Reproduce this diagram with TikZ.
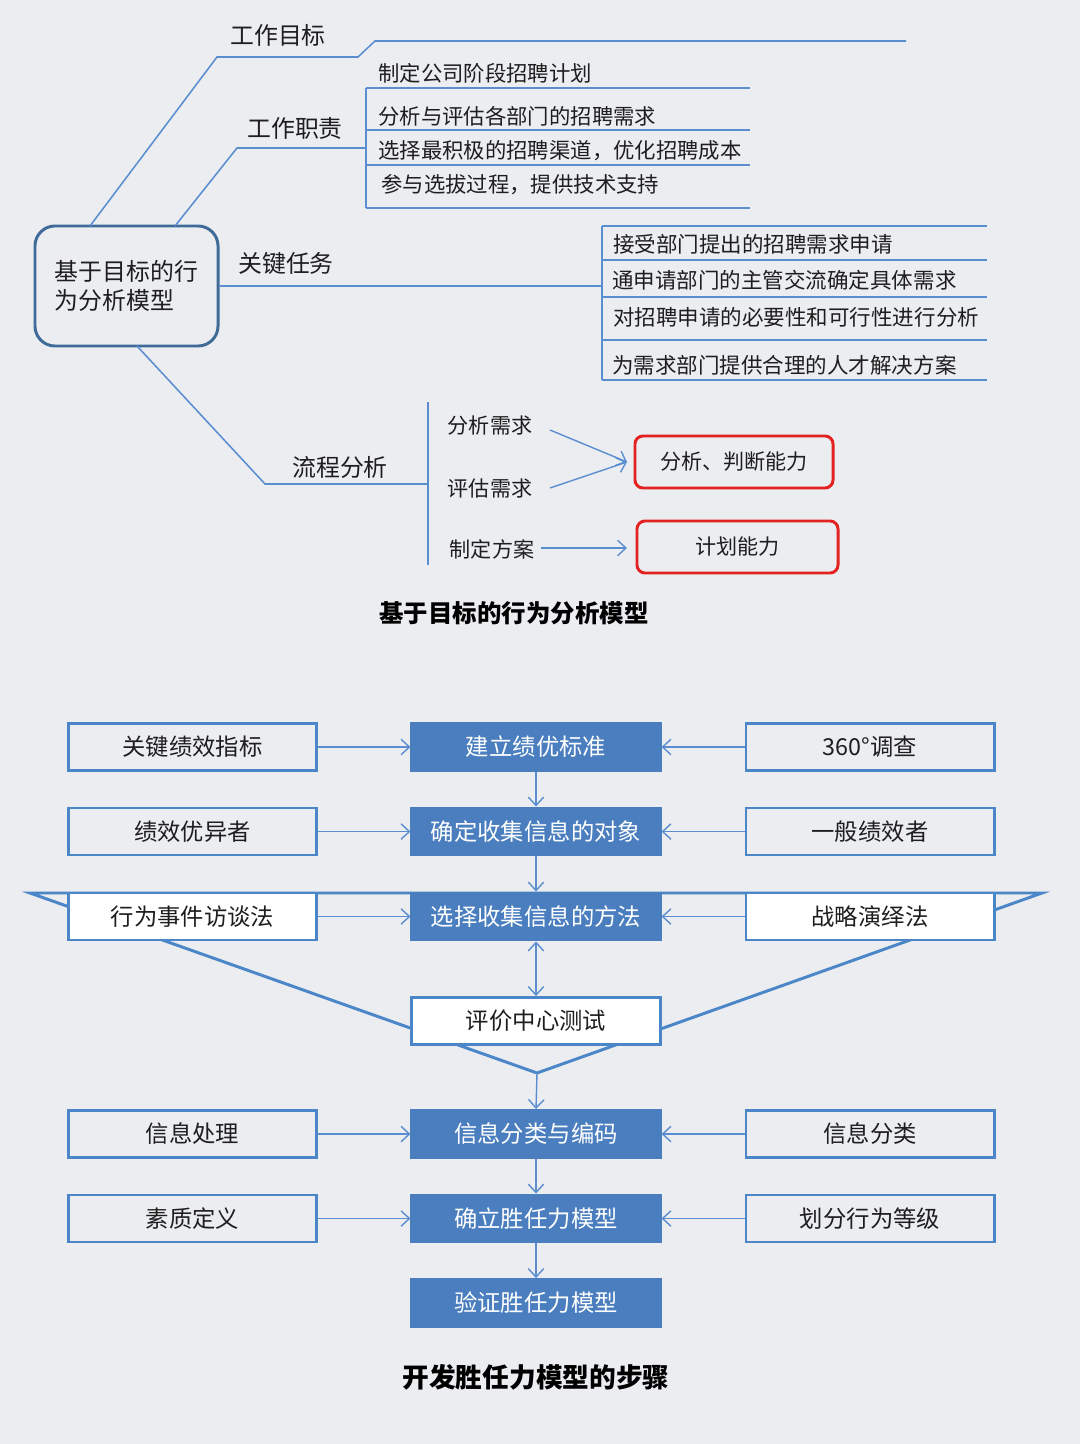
\documentclass[tikz,border=0pt]{standalone}
\usepackage{fontspec}
\setmainfont{Noto Sans CJK SC}
\usetikzlibrary{arrows.meta}
\definecolor{bgc}{HTML}{EBEDF0}
\definecolor{lblue}{HTML}{5B8ED0}
\definecolor{bblue}{HTML}{4A86C8}
\definecolor{fblue}{HTML}{4A7EBF}
\definecolor{mblue}{HTML}{3E6B98}
\definecolor{rred}{HTML}{E42222}
\definecolor{txt}{HTML}{1E1E1E}
\tikzset{
  thinln/.style={draw=lblue, line width=1.1pt},
  lbl/.style={text=txt, inner sep=0pt, font=\fontsize{17}{20}\selectfont},
  sub/.style={text=txt, inner sep=0pt, anchor=west, font=\fontsize{15.2}{18}\selectfont},
  subb/.style={text=txt, inner sep=0pt, anchor=west, font=\fontsize{15.3}{18}\selectfont},
  redbox/.style={draw=rred, line width=2.1pt, rounded corners=0.2cm, minimum height=1.3cm, text=txt, font=\fontsize{15}{18}\selectfont},
  arr/.style={draw=lblue, line width=1pt, -{Straight Barb[length=6pt,width=11pt,line width=1pt]}},
  darr/.style={draw=lblue, line width=1pt, {Straight Barb[length=6pt,width=11pt,line width=1pt]}-{Straight Barb[length=6pt,width=11pt,line width=1pt]}},
  obox/.style={draw=bblue, line width=2.1pt, minimum width=6.2cm, minimum height=1.175cm, text=txt, inner sep=0pt, font=\fontsize{16.6}{19}\selectfont},
  wbox/.style={obox, fill=white},
  fbox/.style={obox, fill=fblue, draw=fblue, text=white},
  ttl/.style={text=black, inner sep=0pt, font=\bfseries\fontsize{17.4}{20}\selectfont}
}
\begin{document}
\begin{tikzpicture}[x=0.025cm,y=-0.025cm]
\fill[bgc] (0,0) rectangle (1080,1444);
\useasboundingbox (0,0) rectangle (1080,1444);

% ===== top diagram =====
\node[draw=mblue, line width=2.1pt, rounded corners=0.5cm, minimum width=4.575cm, minimum height=3cm,
      align=left, text=txt, font=\fontsize{17}{20.6}\selectfont] (main) at (126.5,286) {基于目标的行\\为分析模型};

% 工作目标
\coordinate (g0) at (90,226);
\coordinate (g1) at (217,57);
\coordinate (g2) at (358,57);
\coordinate (g3) at (375,41);
\coordinate (g4) at (906,41);
\draw[thinln] (g0) -- (g1) -- (g2) -- (g3) -- (g4);
\node[lbl] (mubiao) at (278,35) {工作目标};

% 工作职责
\coordinate (z0) at (175,226);
\coordinate (z1) at (237,148);
\coordinate (z2) at (366,148);
\draw[thinln] (z0) -- (z1) -- (z2);
\node[lbl] (zhize) at (295,128) {工作职责};
\coordinate (zt) at (366,88);
\coordinate (zb) at (366,208);
\draw[thinln] (zt) -- (zb);
\foreach \yy in {88,130,165,208} \draw[thinln] (366,\yy) -- (750,\yy);
\node[sub] (z_a) at (378,73) {制定公司阶段招聘计划};
\node[sub] (z_b) at (378,116) {分析与评估各部门的招聘需求};
\node[sub] (z_c) at (378,151) {选择最积极的招聘渠道，优化招聘成本};
\node[sub] (z_d) at (381,185) {参与选拔过程，提供技术支持};

% 关键任务
\coordinate (k1) at (602,286);
\draw[thinln] (main.east) -- (k1);
\node[lbl] (renwu) at (286,263) {关键任务};
\coordinate (kt) at (602,226);
\coordinate (kb) at (602,380);
\draw[thinln] (kt) -- (kb);
\foreach \yy in {226,260,297,340,380} \draw[thinln] (602,\yy) -- (987,\yy);
\node[subb] (k_a) at (613,244) {接受部门提出的招聘需求申请};
\node[subb] (k_b) at (612,280) {通申请部门的主管交流确定具体需求};
\node[subb] (k_c) at (613,317) {对招聘申请的必要性和可行性进行分析};
\node[subb] (k_d) at (612,365) {为需求部门提供合理的人才解决方案};

% 流程分析
\coordinate (p0) at (137,346);
\coordinate (p1) at (265,484);
\coordinate (p2) at (428,484);
\draw[thinln] (p0) -- (p1) -- (p2);
\node[lbl] (liucheng) at (340,467) {流程分析};
\coordinate (pt) at (428,402);
\coordinate (pb) at (428,565);
\draw[thinln] (pt) -- (pb);
\node[lbl, font=\fontsize{15}{18}\selectfont] (fx) at (490,426) {分析需求};
\node[lbl, font=\fontsize{15}{18}\selectfont] (pg) at (490,489) {评估需求};
\node[lbl, font=\fontsize{15}{18}\selectfont] (zd) at (492,549) {制定方案};
\node[redbox, minimum width=4.95cm] (r1) at (734,462) {分析、判断能力};
\node[redbox, minimum width=5.025cm] (r2) at (737.5,547) {计划能力};
\coordinate (fxe) at (550,430);
\coordinate (pge) at (550,488);
\coordinate (zde) at (541,548);
\coordinate (r1w) at (627,462);
\coordinate (r2w) at (627,548);
\draw[arr] (fxe) -- (r1w);
\draw[arr] (pge) -- (r1w);
\draw[arr] (zde) -- (r2w);
\node[ttl] (title1) at (514,613) {基于目标的行为分析模型};

% ===== bottom diagram =====
\coordinate (fa) at (30,893);
\coordinate (fb) at (1042,893);
\coordinate (apex) at (537,1073);
\draw[draw=bblue, line width=2.1pt] (fa) -- (fb) -- (apex) -- cycle;

\node[obox] (l1) at (192.5,747) {关键绩效指标};
\node[fbox] (c1) at (536,747) {建立绩优标准};
\node[obox] (r1b) at (870,747) {360°调查};

\node[obox] (l2) at (192.5,831.5) {绩效优异者};
\node[fbox] (c2) at (536,831.5) {确定收集信息的对象};
\node[obox] (r2b) at (870,831.5) {一般绩效者};

\node[wbox] (l3) at (192.5,916.5) {行为事件访谈法};
\node[fbox] (c3) at (536,916.5) {选择收集信息的方法};
\node[wbox] (r3b) at (870,916.5) {战略演绎法};

\node[wbox] (c4) at (536,1021) {评价中心测试};

\node[obox] (l5) at (192.5,1134) {信息处理};
\node[fbox] (c5) at (536,1134) {信息分类与编码};
\node[obox] (r5b) at (870,1134) {信息分类};

\node[obox] (l6) at (192.5,1218.5) {素质定义};
\node[fbox] (c6) at (536,1218.5) {确立胜任力模型};
\node[obox] (r6b) at (870,1218.5) {划分行为等级};

\node[fbox] (c7) at (536,1303) {验证胜任力模型};

\foreach \i in {1,2,3,5,6} {
  \draw[arr] (l\i.east) -- (c\i.west);
  \draw[arr] (r\i b.west) -- (c\i.east);
}
\draw[arr] (c1.south) -- (c2.north);
\draw[arr] (c2.south) -- (c3.north);
\draw[darr] (c3.south) -- (c4.north);
\draw[arr] (apex) -- (c5.north);
\draw[arr] (c5.south) -- (c6.north);
\draw[arr] (c6.south) -- (c7.north);

\node[ttl, font=\bfseries\fontsize{19}{22}\selectfont] (title2) at (536,1377) {开发胜任力模型的步骤};
\end{tikzpicture}
\end{document}
